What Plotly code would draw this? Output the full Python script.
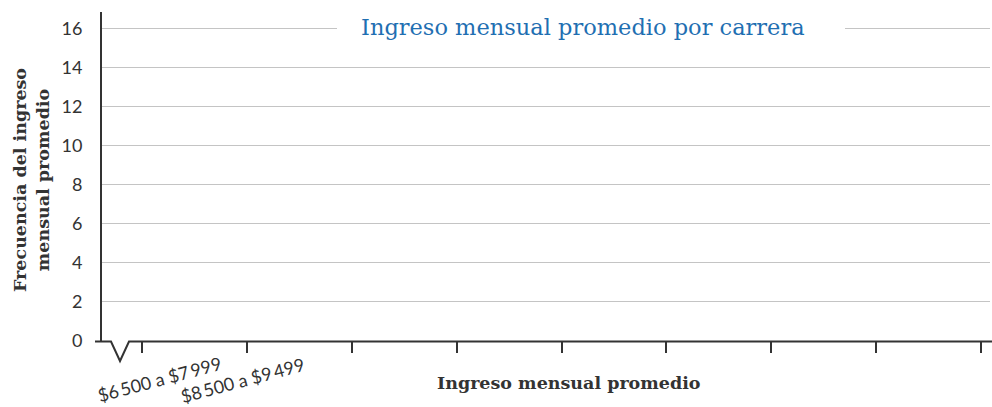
import plotly.graph_objects as go

# ---- data ----
chart_title = "Ingreso mensual promedio por carrera"
x_title = "Ingreso mensual promedio"
y_title = "Frecuencia del ingreso<br>mensual promedio"
bin_labels = ["$6\u2009500 a $7\u2009999", "$8\u2009500 a $9\u2009499"]
bin_label_pos = [1.17, 1.96]           # position along the x scale
x_tick_vals = [1, 2, 3, 4, 5, 6, 7, 8, 9]
y_tick_vals = [0, 2, 4, 6, 8, 10, 12, 14, 16]
frequencies = []                        # the chart shows no bars

# ---- geometry (pixels) ----
W, H = 992, 407
L, R, T, B = 102, 2, 12, 66
PW, PH = W - L - R, H - T - B


def px(xp):
    return (xp - L) / PW


def py(yp):
    return (H - B - yp) / PH


DARK = "#333333"
GRID = "#c4c4c4"
SERIF = "DejaVu Serif"

fig = go.Figure()
fig.add_trace(go.Bar(x=bin_label_pos[:len(frequencies)], y=frequencies,
                     marker_color="#1f6fb2", showlegend=False))

fig.update_layout(
    width=W, height=H,
    margin=dict(l=L, r=R, t=T, b=B),
    paper_bgcolor="white", plot_bgcolor="white",
    showlegend=False,
    xaxis=dict(range=[0.6187, 9.084], tickvals=x_tick_vals,
               ticktext=[""] * len(x_tick_vals),
               ticks="outside", ticklen=11, tickwidth=2, tickcolor=DARK,
               showline=False, showgrid=False, zeroline=False, fixedrange=True),
    yaxis=dict(range=[0, 16.85], tickvals=y_tick_vals,
               ticktext=[str(v) for v in y_tick_vals],
               showgrid=True, gridcolor=GRID, gridwidth=1,
               showline=True, linecolor=DARK, linewidth=2,
               ticks="", ticklabelstandoff=14,
               tickfont=dict(family="Lato", size=18, color=DARK),
               zeroline=False, fixedrange=True),
)

# x axis line with break symbol
path = (f"M {px(95)},{py(341.5)} L {px(111)},{py(341.5)} "
        f"L {px(120)},{py(361)} L {px(129)},{py(341.5)} L {px(992)},{py(341.5)}")
fig.add_shape(type="path", path=path, xref="paper", yref="paper",
              line=dict(color=DARK, width=2), layer="above")

# white box behind the title (interrupts the top gridline)
fig.add_shape(type="rect", xref="paper", yref="paper",
              x0=px(337), x1=px(845), y0=py(42), y1=py(14),
              fillcolor="white", line=dict(width=0), layer="above")

fig.add_annotation(text=chart_title, xref="paper", yref="paper",
                   x=px(583), y=py(27), xanchor="center", yanchor="middle",
                   showarrow=False,
                   font=dict(family=SERIF, size=22.5, color="#1f6fb2"))

fig.add_annotation(text=y_title, xref="paper", yref="paper",
                   x=px(31), y=py(180), xanchor="center", yanchor="middle",
                   textangle=-90, showarrow=False,
                   font=dict(family=SERIF, size=17.5, color=DARK, weight="bold"))

fig.add_annotation(text=x_title, xref="paper", yref="paper",
                   x=px(568), y=py(383), xanchor="center", yanchor="middle",
                   showarrow=False,
                   font=dict(family=SERIF, size=17.5, color=DARK, weight="bold"))

for lab, xv, yc in zip(bin_labels, bin_label_pos, [379, 380]):
    fig.add_annotation(text=lab, xref="x", yref="paper", x=xv, y=py(yc),
                       xanchor="center", yanchor="middle", textangle=-15,
                       showarrow=False,
                       font=dict(family="Lato", size=18, color=DARK))

fig.write_html("out.html", config={"displayModeBar": False},
               post_script="document.body.style.margin='0px';")
